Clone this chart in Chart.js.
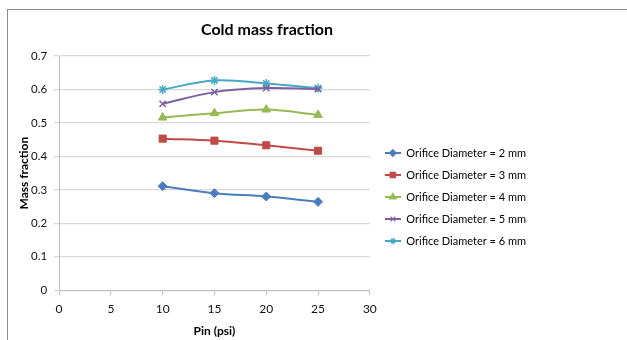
<!DOCTYPE html>
<html>
<head>
<meta charset="utf-8">
<script src="https://cdn.jsdelivr.net/npm/chart.js@4/dist/chart.umd.min.js"></script>
<style>
  html, body { margin: 0; padding: 0; background: #fff; }
  #wrap { position: relative; width: 627px; height: 340px; overflow: hidden; }
  #frame { position: absolute; left: 7px; top: 9px; width: 700px; height: 400px; border: 1px solid #8c8c8c; box-sizing: border-box; }
  #chart { position: absolute; left: 0; top: 0; }
</style>
</head>
<body>
<div id="wrap">
  <div id="frame"></div>
  <canvas id="chart" width="627" height="340"></canvas>
</div>
<script>
// Data
const pressures = [10, 15, 20, 25];
const labels = [
  'Orifice Diameter = 2 mm',
  'Orifice Diameter = 3 mm',
  'Orifice Diameter = 4 mm',
  'Orifice Diameter = 5 mm',
  'Orifice Diameter = 6 mm'
];
const d2mm = [0.311, 0.290, 0.280, 0.264];
const d3mm = [0.453, 0.447, 0.433, 0.417];
const d4mm = [0.516, 0.529, 0.540, 0.524];
const d5mm = [0.557, 0.592, 0.604, 0.601];
const d6mm = [0.600, 0.627, 0.618, 0.604];
const yTicks = [0, 0.1, 0.2, 0.3, 0.4, 0.5, 0.6, 0.7];
const xTicks = [0, 5, 10, 15, 20, 25, 30];
const chartTitle = 'Cold mass fraction';

const colors = ['#4A7EBB', '#BE4B48', '#98B954', '#7D60A0', '#46AAC5'];
const markers = ['rectRot', 'rect', 'triangle', 'crossRot', 'star'];
const radii = [4.5, 5, 5, 4.5, 4.5];
const series = [d2mm, d3mm, d4mm, d5mm, d6mm];

const FONT = 'Lato, "Liberation Sans", sans-serif';

// legend sample: short line with the marker in the middle (left 4px left blank)
function legendIcon(color, style, radius) {
  const c = document.createElement('canvas');
  c.width = 20;
  c.height = 12;
  const g = c.getContext('2d');
  g.strokeStyle = color;
  g.lineWidth = 2;
  g.beginPath();
  g.moveTo(4, 6);
  g.lineTo(20, 6);
  g.stroke();
  g.fillStyle = color;
  g.lineWidth = 1.2;
  Chart.helpers.drawPoint(g, {pointStyle: style, radius: radius * 0.75, borderWidth: 1.2, rotation: 0}, 12, 6);
  return c;
}

// Excel puts the title over the whole chart object, not the plot
const titlePlugin = {
  id: 'excelTitle',
  afterDraw(chart) {
    const ctx = chart.ctx;
    ctx.save();
    ctx.fillStyle = '#000';
    ctx.font = 'bold 16px ' + FONT;
    ctx.textAlign = 'center';
    ctx.textBaseline = 'middle';
    ctx.fillText(chartTitle, 267, 30);
    ctx.restore();
  }
};

const datasets = series.map((vals, i) => ({
  label: labels[i],
  data: pressures.map((p, k) => ({x: p, y: vals[k]})),
  borderColor: colors[i],
  backgroundColor: colors[i],
  pointStyle: markers[i],
  pointRadius: radii[i],
  pointBorderWidth: i >= 3 ? 1.5 : 1,
  borderWidth: 2,
  tension: 0.35,
  fill: false
}));

const icons = series.map((v, i) => legendIcon(colors[i], markers[i], radii[i]));

new Chart(document.getElementById('chart'), {
  type: 'line',
  data: { datasets: datasets },
  plugins: [titlePlugin],
  options: {
    responsive: false,
    animation: false,
    layout: { padding: { left: 21, right: 91, top: 56, bottom: 2 } },
    plugins: {
      legend: {
        position: 'right',
        maxWidth: 200,
        labels: {
          color: '#111',
          font: { family: FONT, size: 11 },
          usePointStyle: true,
          pointStyleWidth: 20,
          padding: 11,
          generateLabels: chart => chart.data.datasets.map((ds, i) => ({
            text: ds.label,
            pointStyle: icons[i],
            fillStyle: ds.borderColor,
            strokeStyle: ds.borderColor,
            lineWidth: 0,
            hidden: false,
            datasetIndex: i
          }))
        }
      },
      tooltip: { enabled: false }
    },
    scales: {
      x: {
        type: 'linear',
        min: 0,
        max: 30,
        afterBuildTicks: axis => { axis.ticks = xTicks.map(v => ({value: v})); },
        grid: { drawOnChartArea: false, drawTicks: true, tickLength: 5, color: '#bfbfbf' },
        border: { color: '#bfbfbf' },
        ticks: { color: '#111', font: { family: FONT, size: 12 }, padding: 7, maxRotation: 0 },
        title: { display: true, text: 'Pin (psi)', color: '#000', font: { family: FONT, size: 12, weight: 'bold' }, padding: { top: 0, bottom: 0 } }
      },
      y: {
        min: 0,
        max: 0.7,
        afterBuildTicks: axis => { axis.ticks = yTicks.map(v => ({value: v})); },
        grid: { color: '#d9d9d9', lineWidth: 1.3, tickLength: 5 },
        border: { color: '#bfbfbf' },
        ticks: { color: '#111', font: { family: FONT, size: 11.5 }, padding: 7, callback: v => String(Math.round(v * 10) / 10) },
        title: { display: true, text: 'Mass fraction', color: '#000', font: { family: FONT, size: 12, weight: 'bold', lineHeight: 1 }, padding: { top: -3, bottom: -6 } }
      }
    }
  }
});
</script>
</body>
</html>
